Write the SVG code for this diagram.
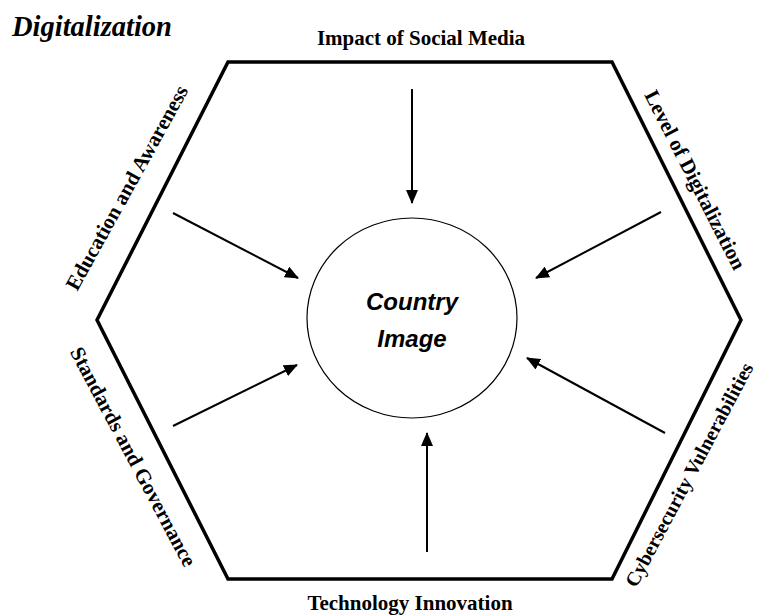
<svg xmlns="http://www.w3.org/2000/svg" width="759" height="615" viewBox="0 0 759 615">
<style>
.lbl{font-family:"Liberation Serif","Times New Roman",serif;font-weight:bold;font-size:21px;fill:#000;text-anchor:middle}
.title{font-family:"Liberation Serif","Times New Roman",serif;font-weight:bold;font-style:italic;font-size:28.5px;fill:#000}
.ctr{font-family:"Liberation Sans",Arial,sans-serif;font-weight:bold;font-style:italic;font-size:24px;fill:#000;text-anchor:middle}
.arr{stroke:#000;stroke-width:2;fill:none;marker-end:url(#ah)}
</style>
<defs>
<marker id="ah" markerWidth="14" markerHeight="12" refX="13" refY="6" orient="auto" markerUnits="userSpaceOnUse">
<path d="M0,0 L14,6 L0,12 z" fill="#000"/>
</marker>
</defs>
<rect width="759" height="615" fill="#fff"/>
<text class="title" x="12" y="36">Digitalization</text>
<g id="hexagon">
<polygon points="228,62 612,62 741,320 612,579 228,579 97,320" fill="none" stroke="#000" stroke-width="3.5" stroke-linejoin="miter"/>
</g>
<g id="country-image">
<ellipse cx="412" cy="318" rx="105" ry="100" fill="#fff" stroke="#000" stroke-width="1.2"/>
<text class="ctr" x="412" y="310">Country</text>
<text class="ctr" x="412" y="347">Image</text>
</g>
<g id="impact-social-media"><text class="lbl" x="421" y="45">Impact of Social Media</text></g>
<g id="technology-innovation"><text class="lbl" x="410" y="610">Technology Innovation</text></g>
<g id="education-awareness"><text class="lbl" transform="translate(133,191) rotate(-61)">Education and Awareness</text></g>
<g id="level-digitalization"><text class="lbl" transform="translate(689,183) rotate(63)">Level of Digitalization</text></g>
<g id="standards-governance"><text class="lbl" transform="translate(127,460) rotate(62)">Standards and Governance</text></g>
<g id="cybersecurity"><text class="lbl" style="font-size:20px" transform="translate(695,478) rotate(-62)">Cybersecurity Vulnerabilities</text></g>
<g id="connectors">
<line class="arr" x1="412" y1="89" x2="412" y2="203"/>
<line class="arr" x1="427" y1="552" x2="427" y2="433"/>
<line class="arr" x1="173" y1="213" x2="298" y2="278"/>
<line class="arr" x1="661" y1="212" x2="536" y2="278"/>
<line class="arr" x1="173" y1="426" x2="297" y2="365"/>
<line class="arr" x1="665" y1="433" x2="527" y2="358"/>
</g>
</svg>
